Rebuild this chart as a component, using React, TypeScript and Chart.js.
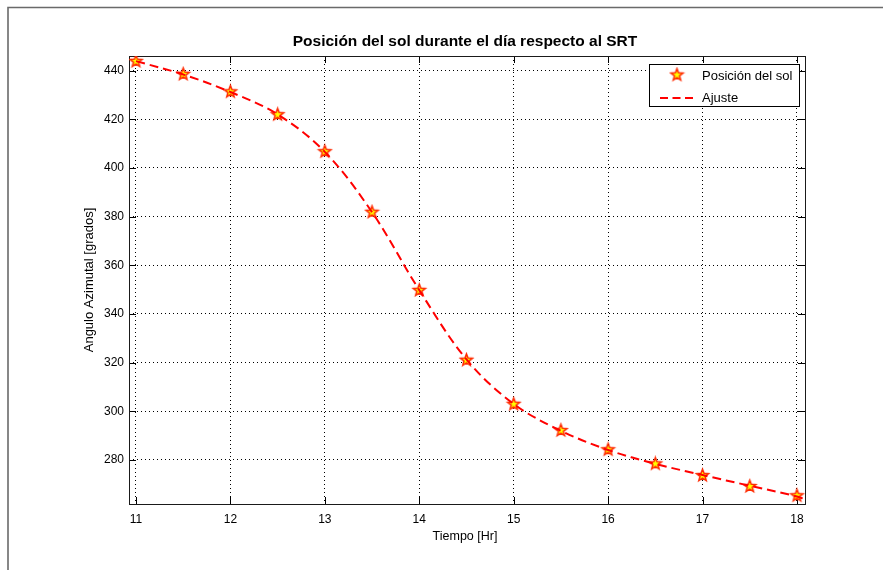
import React, { useEffect, useRef } from "react";
import { Chart, registerables } from "chart.js";
Chart.register(...registerables);

const hours = [11, 11.5, 12, 12.5, 13, 13.5, 14, 14.5, 15, 15.5, 16, 16.5, 17, 17.5, 18];
const azimuth = [443.8, 438.5, 431.3, 421.9, 406.7, 381.8, 349.7, 321.0, 302.9, 292.1, 284.2, 278.4, 273.6, 269.1, 265.3];
const fitHours = [11, 11.5, 12, 12.5, 13, 13.5, 14, 14.5, 15, 15.5, 16, 16.5, 17, 17.5, 18, 18.09];
const fitAzimuth = [443.9, 438.4, 431.2, 422.0, 406.6, 381.8, 349.8, 321.3, 303.0, 292.0, 284.1, 278.4, 273.8, 269.4, 265.0, 263.8];
const seriesLabels = ["Posición del sol", "Ajuste"];
const chartTitle = "Posición del sol durante el día respecto al SRT";
const xTitle = "Tiempo [Hr]";
const yTitle = "Angulo Azimutal [grados]";
const xRange = [10.926, 18.085];
const yRange = [261.9, 446.0];
const xStep = 1;
const yStep = 20;

const FONT = "'Liberation Sans', Arial, Helvetica, sans-serif";

function makeStar(r: number): HTMLCanvasElement {
  const size = Math.ceil(2 * r + 4);
  const c = document.createElement("canvas");
  c.width = size;
  c.height = size;
  const ctx = c.getContext("2d")!;
  const cx = size / 2;
  const cy = size / 2;
  ctx.beginPath();
  for (let i = 0; i < 10; i++) {
    const a = -Math.PI / 2 + (i * Math.PI) / 5;
    const rad = i % 2 === 0 ? r : r * 0.42;
    const px = cx + rad * Math.cos(a);
    const py = cy + rad * Math.sin(a);
    if (i === 0) ctx.moveTo(px, py);
    else ctx.lineTo(px, py);
  }
  ctx.closePath();
  ctx.fillStyle = "#ffff00";
  ctx.fill();
  ctx.lineWidth = 1.5;
  ctx.strokeStyle = "#ff2a00";
  ctx.stroke();
  return c;
}

export default function App() {
  const ref = useRef<HTMLCanvasElement | null>(null);

  useEffect(() => {
    if (!ref.current) return;
    const star = makeStar(6.3);

    const decor = {
      id: "decor",
      beforeDatasetsDraw(chart: any) {
        const { ctx, chartArea: a, scales } = chart;
        ctx.save();
        ctx.strokeStyle = "#000";
        ctx.lineWidth = 1;
        ctx.setLineDash([]);
        ctx.beginPath();
        const tl = 7;
        scales.x.ticks.forEach((t: any) => {
          const px = Math.round(scales.x.getPixelForValue(t.value)) + 0.5;
          ctx.moveTo(px, a.bottom);
          ctx.lineTo(px, a.bottom - tl);
          ctx.moveTo(px, a.top);
          ctx.lineTo(px, a.top + tl);
        });
        scales.y.ticks.forEach((t: any) => {
          const py = Math.round(scales.y.getPixelForValue(t.value)) + 0.5;
          ctx.moveTo(a.left, py);
          ctx.lineTo(a.left + tl, py);
          ctx.moveTo(a.right, py);
          ctx.lineTo(a.right - tl, py);
        });
        ctx.stroke();
        ctx.strokeStyle = "#1a1a1a";
        ctx.strokeRect(Math.round(a.left) + 0.5, Math.round(a.top) + 0.5, Math.round(a.right - a.left), Math.round(a.bottom - a.top));
        ctx.restore();
      },
      afterDraw(chart: any) {
        const { ctx, chartArea: a } = chart;
        ctx.save();
        // outer frame
        ctx.strokeStyle = "#6a6a6a";
        ctx.lineWidth = 1.6;
        ctx.beginPath();
        ctx.moveTo(8, 570);
        ctx.lineTo(8, 7.5);
        ctx.lineTo(883, 7.5);
        ctx.stroke();

        const cx = (a.left + a.right) / 2;
        ctx.fillStyle = "#000";
        ctx.textAlign = "center";
        ctx.textBaseline = "alphabetic";
        ctx.font = `bold 15.5px ${FONT}`;
        ctx.fillText(chartTitle, cx - 2, 45.5);

        ctx.font = `12.5px ${FONT}`;
        ctx.textBaseline = "middle";
        ctx.fillText(xTitle, cx - 2, 537);

        ctx.save();
        ctx.translate(89, (a.top + a.bottom) / 2);
        ctx.rotate(-Math.PI / 2);
        ctx.font = `13px ${FONT}`;
        ctx.fillText(yTitle, 0, 0);
        ctx.restore();

        // legend
        const lx = 649, ly = 64, lw = 150, lh = 42;
        ctx.fillStyle = "#fff";
        ctx.fillRect(lx, ly, lw, lh);
        ctx.strokeStyle = "#000";
        ctx.lineWidth = 1;
        ctx.strokeRect(lx + 0.5, ly + 0.5, lw, lh);
        ctx.drawImage(star, 677 - star.width / 2, 75 - star.height / 2);
        ctx.strokeStyle = "#ff0000";
        ctx.lineWidth = 2;
        ctx.setLineDash([8, 4.5]);
        ctx.beginPath();
        ctx.moveTo(660, 98);
        ctx.lineTo(697, 98);
        ctx.stroke();
        ctx.setLineDash([]);
        ctx.fillStyle = "#000";
        ctx.textAlign = "left";
        ctx.font = `13px ${FONT}`;
        ctx.fillText(chart.data.datasets[0].label, 702, 76);
        ctx.fillText(chart.data.datasets[1].label, 702, 98);
        ctx.restore();
      },
    };

    const chart = new Chart(ref.current, {
      type: "scatter",
      data: {
        datasets: [
          {
            label: seriesLabels[0],
            data: hours.map((h, i) => ({ x: h, y: azimuth[i] })),
            pointStyle: star as any,
            pointRadius: 6,
            showLine: false,
            order: 1,
          },
          {
            label: seriesLabels[1],
            data: fitHours.map((h, i) => ({ x: h, y: fitAzimuth[i] })),
            showLine: true,
            pointRadius: 0,
            borderColor: "#ff0000",
            borderWidth: 2,
            borderDash: [9, 5],
            tension: 0.35,
            fill: false,
            order: 0,
          },
        ],
      },
      options: {
        responsive: false,
        animation: false,
        devicePixelRatio: 1,
        layout: { padding: { left: 0, right: 78, top: 56, bottom: 0 } },
        plugins: {
          legend: { display: false },
          title: { display: false },
          tooltip: { enabled: false },
        },
        scales: {
          x: {
            type: "linear",
            min: xRange[0],
            max: xRange[1],
            afterFit(s: any) {
              s.height = 66;
            },
            border: { display: false, dash: [1, 3] },
            grid: {
              color: "#000",
              lineWidth: 1,
              drawTicks: false,
            },
            ticks: {
              stepSize: xStep,
              includeBounds: false,
              color: "#000",
              padding: 8,
              maxRotation: 0,
              font: { family: FONT, size: 12 },
            },
          },
          y: {
            type: "linear",
            min: yRange[0],
            max: yRange[1],
            afterFit(s: any) {
              s.width = 129;
            },
            border: { display: false, dash: [1, 3] },
            grid: {
              color: "#000",
              lineWidth: 1,
              drawTicks: false,
            },
            ticks: {
              stepSize: yStep,
              includeBounds: false,
              color: "#000",
              padding: 5,
              font: { family: FONT, size: 12 },
            },
          },
        },
      },
      plugins: [decor],
    } as any);

    return () => chart.destroy();
  }, []);

  return (
    <div style={{ position: "fixed", left: 0, top: 0, width: 883, height: 570, background: "#fff" }}>
      <canvas ref={ref} width={883} height={570} style={{ display: "block" }} />
    </div>
  );
}
